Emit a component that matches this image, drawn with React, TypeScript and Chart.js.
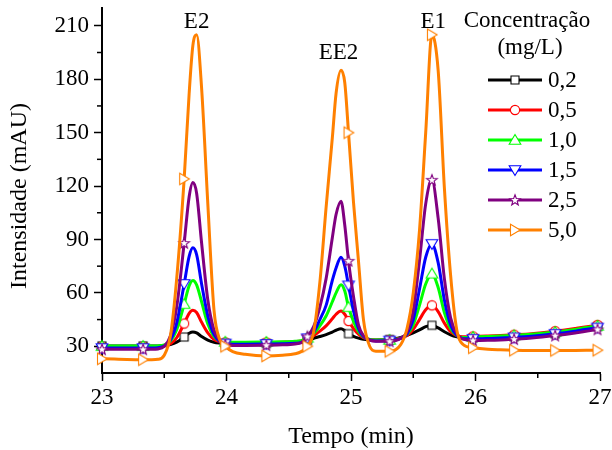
import React, { useEffect, useRef } from "react";
import { Chart, registerables } from "chart.js";

Chart.register(...registerables);

// Retention time axis (min)
const times = [
  23.0, 23.1, 23.2, 23.33, 23.4, 23.45, 23.5, 23.55, 23.6, 23.66,
  23.7, 23.73, 23.76, 23.8, 23.85, 23.9, 23.95, 23.99, 24.05, 24.15,
  24.32, 24.45, 24.55, 24.6, 24.65, 24.7, 24.75, 24.8, 24.85, 24.88,
  24.92, 24.95, 24.98, 25.02, 25.06, 25.1, 25.15, 25.2, 25.31, 25.4,
  25.45, 25.5, 25.55, 25.6, 25.65, 25.7, 25.75, 25.8, 25.85, 25.9,
  25.98, 26.1, 26.2, 26.31, 26.45, 26.64, 26.8, 26.98, 27.0,
];

// Times at which the symbols are drawn
const markerTimes = [23.0, 23.33, 23.66, 23.99, 24.32, 24.65, 24.98, 25.31, 25.65, 25.98, 26.31, 26.64, 26.98];

// Intensity (mAU) for each concentration
const conc02 = [
  30.2, 30.2, 30.2, 30.2, 30.2, 30.2, 30.4, 31.0, 32.3, 35.2,
  37.3, 38.0, 37.5, 35.5, 33.5, 32.3, 31.8, 31.6, 31.5, 31.5,
  31.6, 31.7, 31.9, 32.2, 33.2, 34.5, 35.5, 36.6, 38.0, 39.0,
  39.8, 38.8, 37.1, 35.6, 34.6, 34.0, 33.7, 33.6, 33.8, 35.0,
  36.2, 37.6, 39.2, 41.0, 41.8, 40.3, 38.2, 36.4, 35.3, 34.8,
  34.6, 34.8, 35.0, 35.3, 35.8, 37.0, 38.7, 41.0, 41.3,
];
const conc05 = [
  29.7, 29.7, 29.7, 29.7, 29.7, 29.8, 30.2, 31.4, 34.8, 42.8,
  48.5, 50.2, 49.0, 43.5, 37.5, 33.8, 32.5, 32.2, 32.0, 32.0,
  32.1, 32.3, 32.6, 33.0, 34.2, 36.0, 38.5, 41.5, 45.5, 48.0,
  49.8, 48.0, 44.2, 40.0, 36.8, 34.8, 33.8, 33.4, 33.6, 34.5,
  36.0, 39.5, 45.0, 50.5, 53.0, 49.5, 43.0, 38.2, 36.0, 35.4,
  35.5, 35.8, 36.1, 36.5, 37.1, 38.5, 40.0, 42.0, 42.3,
];
const conc10 = [
  30.1, 30.1, 30.1, 30.1, 30.1, 30.2, 30.8, 33.0, 39.3, 53.7,
  64.0, 67.0, 64.5, 55.0, 42.5, 35.5, 33.0, 32.5, 32.3, 32.3,
  32.4, 32.5, 32.8, 33.2, 34.8, 37.2, 41.5, 47.0, 55.0, 60.0,
  64.5, 61.0, 52.0, 44.0, 38.3, 35.3, 33.9, 33.5, 33.6, 34.6,
  36.8, 42.0, 53.0, 65.0, 70.8, 63.0, 49.0, 40.0, 36.0, 35.0,
  35.2, 35.5, 35.8, 36.1, 36.7, 38.0, 39.5, 41.5, 41.8,
];
const conc15 = [
  29.0, 29.0, 29.0, 29.0, 29.0, 29.2, 30.2, 33.5, 43.0, 65.0,
  80.5, 85.3, 81.5, 65.0, 47.0, 36.5, 32.5, 31.5, 31.2, 31.2,
  31.3, 31.4, 31.7, 32.2, 34.5, 38.0, 45.0, 53.0, 67.0, 74.0,
  80.0, 75.0, 64.2, 50.0, 40.0, 35.5, 33.6, 33.0, 33.2, 34.5,
  37.0, 45.0, 62.0, 80.0, 87.5, 77.0, 56.0, 42.0, 36.0, 34.3,
  34.2, 34.4, 34.7, 35.0, 35.6, 37.0, 38.5, 40.5, 40.8,
];
const conc25 = [
  28.3, 28.3, 28.3, 28.3, 28.3, 28.5, 30.0, 36.0, 52.0, 88.0,
  114.0, 122.0, 116.0, 88.0, 56.0, 39.0, 33.0, 31.0, 30.5, 30.5,
  30.6, 30.8, 31.3, 32.0, 35.5, 41.0, 52.0, 68.0, 91.0, 104.0,
  111.5, 98.0, 78.0, 58.0, 42.0, 36.0, 33.5, 32.8, 32.8, 34.5,
  38.0, 50.0, 78.0, 110.0, 123.5, 102.0, 68.0, 46.0, 37.0, 34.0,
  33.3, 33.4, 33.6, 34.0, 34.6, 36.0, 37.5, 39.5, 39.8,
];
const conc50 = [
  23.0, 22.8, 22.6, 22.5, 22.5, 22.7, 25.0, 36.0, 68.0, 124.0,
  172.0, 199.0, 205.0, 175.0, 110.0, 50.0, 33.0, 30.0, 27.0, 25.5,
  24.6, 25.0, 25.8, 27.0, 30.0, 38.0, 66.0, 108.0, 147.0, 172.0,
  185.0, 178.0, 150.0, 111.0, 78.0, 45.0, 30.0, 27.2, 27.2, 31.0,
  40.0, 60.0, 95.0, 150.0, 205.0, 185.0, 119.0, 70.0, 39.0, 31.0,
  29.2, 28.3, 28.0, 27.8, 27.7, 27.7, 27.7, 27.8, 27.8,
];

const concLabels = ["0,2", "0,5", "1,0", "1,5", "2,5", "5,0"];
const legendTitle = ["Concentração", "(mg/L)"];
const xTitle = "Tempo (min)";
const yTitle = "Intensidade (mAU)";

const xTicks = [23, 24, 25, 26, 27];
const xMinorTicks = [23.5, 24.5, 25.5, 26.5];
const yTicks = [30, 60, 90, 120, 150, 180, 210];
const yMinorTicks = [45, 75, 105, 135, 165, 195];

const peakLabels = ["E2", "EE2", "E1"];
const peakLabelTimes = [23.76, 24.9, 25.66];
const peakLabelLevels = [212, 195, 212];

const seriesColors = ["#000000", "#ff0000", "#00ff00", "#0000ff", "#800080", "#ff8000"];
const markerKinds = ["square", "circle", "triangleUp", "triangleDown", "star", "triangleRight"];

const FONT = '"Liberation Serif", "Times New Roman", serif';

function makeMarker(kind: string, color: string): HTMLCanvasElement {
  const c = document.createElement("canvas");
  c.width = 16;
  c.height = 16;
  const g = c.getContext("2d")!;
  g.fillStyle = "#ffffff";
  g.strokeStyle = color;
  g.lineWidth = 1.1;
  g.beginPath();
  if (kind === "square") {
    g.rect(4, 4, 8, 8);
  } else if (kind === "circle") {
    g.arc(8, 8, 4.6, 0, Math.PI * 2);
  } else if (kind === "triangleUp") {
    g.moveTo(8, 2.5);
    g.lineTo(13.8, 12.2);
    g.lineTo(2.2, 12.2);
    g.closePath();
  } else if (kind === "triangleDown") {
    g.moveTo(2.2, 3.8);
    g.lineTo(13.8, 3.8);
    g.lineTo(8, 13.5);
    g.closePath();
  } else if (kind === "triangleRight") {
    g.moveTo(3.5, 2.2);
    g.lineTo(13.2, 8);
    g.lineTo(3.5, 13.8);
    g.closePath();
  } else {
    for (let k = 0; k < 10; k++) {
      const r = k % 2 === 0 ? 5.6 : 2.3;
      const a = -Math.PI / 2 + (k * Math.PI) / 5;
      const px = 8 + r * Math.cos(a);
      const py = 8.4 + r * Math.sin(a);
      if (k === 0) g.moveTo(px, py);
      else g.lineTo(px, py);
    }
    g.closePath();
  }
  g.fill();
  g.stroke();
  return c;
}

export default function App() {
  const canvasRef = useRef<HTMLCanvasElement | null>(null);

  useEffect(() => {
    if (!canvasRef.current) return;
    const markers = markerKinds.map((k, i) => makeMarker(k, seriesColors[i]));
    const seriesValues = [conc02, conc05, conc10, conc15, conc25, conc50];

    const overlay = {
      id: "overlay",
      afterDraw(chart: any) {
        const { ctx } = chart;
        const xs = chart.scales.x;
        const ys = chart.scales.y;
        ctx.save();
        // minor ticks
        ctx.strokeStyle = "#000";
        ctx.lineWidth = 1.5;
        yMinorTicks.forEach((v) => {
          const py = ys.getPixelForValue(v);
          ctx.beginPath();
          ctx.moveTo(xs.left - 5, py);
          ctx.lineTo(xs.left, py);
          ctx.stroke();
        });
        xMinorTicks.forEach((v) => {
          const px = xs.getPixelForValue(v);
          ctx.beginPath();
          ctx.moveTo(px, ys.bottom);
          ctx.lineTo(px, ys.bottom + 5);
          ctx.stroke();
        });
        ctx.fillStyle = "#000";
        ctx.textAlign = "center";
        ctx.textBaseline = "middle";
        // axis titles
        ctx.font = `24px ${FONT}`;
        ctx.fillText(xTitle, (xs.left + xs.right) / 2, 437);
        ctx.save();
        ctx.translate(20, 196);
        ctx.rotate(-Math.PI / 2);
        ctx.fillText(yTitle, 0, 0);
        ctx.restore();
        // peak labels
        ctx.font = `23px ${FONT}`;
        peakLabels.forEach((t, i) => {
          ctx.fillText(t, xs.getPixelForValue(peakLabelTimes[i]), ys.getPixelForValue(peakLabelLevels[i]));
        });
        // legend
        ctx.fillText(legendTitle[0], 527, 21);
        ctx.fillText(legendTitle[1], 530, 48);
        ctx.textAlign = "left";
        concLabels.forEach((lab, i) => {
          const ly = 80 + i * 30;
          ctx.strokeStyle = seriesColors[i];
          ctx.lineWidth = 3;
          ctx.beginPath();
          ctx.moveTo(488, ly);
          ctx.lineTo(542, ly);
          ctx.stroke();
          ctx.drawImage(markers[i], 515 - 8, ly - 8);
          ctx.fillStyle = "#000";
          ctx.fillText(lab, 548, ly + 1);
        });
        ctx.restore();
      },
    };

    const chart = new Chart(canvasRef.current, {
      type: "line",
      data: {
        datasets: seriesValues.map((vals, i) => ({
          label: concLabels[i],
          data: vals.map((v, j) => ({ x: times[j], y: v })),
          borderColor: seriesColors[i],
          backgroundColor: seriesColors[i],
          borderWidth: 3,
          pointStyle: markers[i] as any,
          pointRadius: (c: any) => (markerTimes.includes(times[c.dataIndex]) ? 5 : 0),
          pointHoverRadius: 0,
          cubicInterpolationMode: "monotone" as const,
          order: 5 - i,
          clip: false as any,
        })),
      },
      options: {
        animation: false,
        responsive: true,
        maintainAspectRatio: false,
        events: [],
        layout: { padding: { top: 8, right: 12, left: 0, bottom: 0 } },
        plugins: { legend: { display: false }, tooltip: { enabled: false } },
        scales: {
          x: {
            type: "linear",
            min: 23,
            max: 27,
            afterBuildTicks: (s: any) => {
              s.ticks = xTicks.map((v) => ({ value: v }));
            },
            afterFit: (s: any) => {
              s.height = 77;
              s.paddingLeft = 0;
              s.paddingRight = 0;
            },
            grid: { drawOnChartArea: false, tickLength: 8, tickColor: "#000", tickWidth: 1.5 },
            border: { display: true, color: "#000", width: 2 },
            ticks: { color: "#000", font: { family: FONT, size: 23 }, padding: 3, maxRotation: 0, autoSkip: false },
          },
          y: {
            type: "linear",
            min: 15,
            max: 220,
            afterBuildTicks: (s: any) => {
              s.ticks = yTicks.map((v) => ({ value: v }));
            },
            afterFit: (s: any) => {
              s.width = 102;
              s.paddingTop = 0;
              s.paddingBottom = 0;
            },
            grid: { drawOnChartArea: false, tickLength: 8, tickColor: "#000", tickWidth: 1.5 },
            border: { display: true, color: "#000", width: 2 },
            ticks: { color: "#000", font: { family: FONT, size: 23 }, padding: 5, autoSkip: false },
          },
        },
      },
      plugins: [overlay],
    });
    return () => chart.destroy();
  }, []);

  return (
    <div style={{ position: "absolute", left: 0, top: 0, width: 612, height: 450, background: "#fff" }}>
      <canvas ref={canvasRef} />
    </div>
  );
}
